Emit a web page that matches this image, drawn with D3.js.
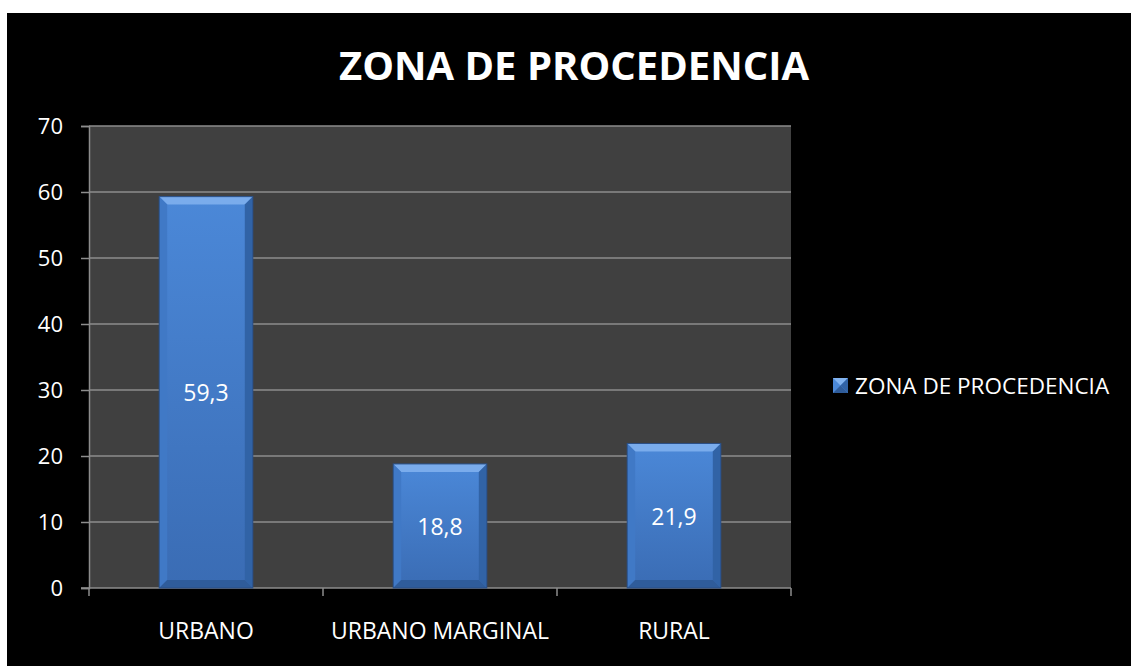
<!DOCTYPE html>
<html>
<head>
<meta charset="utf-8">
<script src="https://cdn.jsdelivr.net/npm/d3@7"></script>
<style>
  body { margin: 0; background: #fff; }
  text { font-family: "Open Sans", "DejaVu Sans", sans-serif; fill: #fff; }
</style>
</head>
<body>
<div id="vis"></div>
<script>
// chart data
var categories = ['URBANO', 'URBANO MARGINAL', 'RURAL'];
var values = [59.3, 18.8, 21.9];
var labels = ['59,3', '18,8', '21,9'];
var yTicks = [0, 10, 20, 30, 40, 50, 60, 70];
var seriesName = 'ZONA DE PROCEDENCIA';
var chartTitle = 'ZONA DE PROCEDENCIA';

var width = 1131, height = 666;
var margin = { top: 126, left: 89, right: 340, bottom: 78 };
var drawWidth = 791 - margin.left,
    drawHeight = 588 - margin.top;

var svg = d3.select('#vis').append('svg')
    .attr('width', width)
    .attr('height', height);

// black chart background
svg.append('rect')
    .attr('x', 7).attr('y', 13)
    .attr('width', width - 7).attr('height', height - 13)
    .attr('fill', '#000');

var defs = svg.append('defs');
var grad = defs.append('linearGradient').attr('id', 'barGrad')
    .attr('x1', 0).attr('y1', 0).attr('x2', 0).attr('y2', 1);
grad.append('stop').attr('offset', '0%').attr('stop-color', '#4b88d8');
grad.append('stop').attr('offset', '100%').attr('stop-color', '#3a6cb4');

var g = svg.append('g')
    .attr('transform', 'translate(' + margin.left + ',' + margin.top + ')');

// plot area
g.append('rect')
    .attr('width', drawWidth).attr('height', drawHeight)
    .attr('fill', '#404040');

var xScale = d3.scaleBand()
    .domain(categories)
    .range([0, drawWidth])
    .paddingInner(0.6)
    .paddingOuter(0.3);

var yScale = d3.scaleLinear()
    .domain([0, 70])
    .range([drawHeight, 0]);

// gridlines
g.selectAll('.grid').data(yTicks.slice(1)).enter().append('line')
    .attr('x1', 0).attr('x2', drawWidth)
    .attr('y1', function(d) { return yScale(d); })
    .attr('y2', function(d) { return yScale(d); })
    .attr('stroke', '#8c8c8c').attr('stroke-width', 1.5);

// y axis
var yAxis = d3.axisLeft(yScale).tickValues(yTicks).tickSize(8).tickPadding(18);
var yAxisG = g.append('g').call(yAxis);
yAxisG.select('.domain').attr('stroke', '#8c8c8c').attr('stroke-width', 1.5);
yAxisG.selectAll('.tick line').attr('stroke', '#8c8c8c').attr('stroke-width', 1.5);
yAxisG.selectAll('.tick text').attr('fill', '#fff')
    .style('font-size', '22px').attr('font-family', null);

// x axis with ticks at category boundaries
var step = drawWidth / categories.length;
var xAxisG = g.append('g').attr('transform', 'translate(0,' + drawHeight + ')');
xAxisG.append('line')
    .attr('x1', -8).attr('x2', drawWidth)
    .attr('stroke', '#8c8c8c').attr('stroke-width', 1.5);
xAxisG.selectAll('.xt').data(d3.range(categories.length + 1)).enter().append('line')
    .attr('x1', function(d) { return d * step; })
    .attr('x2', function(d) { return d * step; })
    .attr('y1', 0).attr('y2', 8)
    .attr('stroke', '#8c8c8c').attr('stroke-width', 1.5);
xAxisG.selectAll('.xl').data(categories).enter().append('text')
    .attr('x', function(d) { return xScale(d) + xScale.bandwidth() / 2; })
    .attr('y', 51)
    .attr('text-anchor', 'middle')
    .style('font-size', '23px')
    .text(function(d) { return d; });

// bars with a bevel
var bev = 8;
var bars = g.selectAll('.bar').data(values).enter().append('g')
    .attr('transform', function(d, i) {
        return 'translate(' + xScale(categories[i]) + ',' + yScale(d) + ')';
    });

bars.each(function(d, i) {
    var b = d3.select(this);
    var w = xScale.bandwidth();
    var h = drawHeight - yScale(d);
    b.append('rect').attr('width', w).attr('height', h).attr('fill', 'url(#barGrad)');
    // top bevel
    b.append('polygon')
        .attr('points', [[0, 0], [w, 0], [w - bev, bev], [bev, bev]].join(' '))
        .attr('fill', '#82b3f0').attr('opacity', 0.85);
    // left bevel
    b.append('polygon')
        .attr('points', [[0, 0], [bev, bev], [bev, h - bev], [0, h]].join(' '))
        .attr('fill', '#4079c6');
    // right bevel
    b.append('polygon')
        .attr('points', [[w, 0], [w - bev, bev], [w - bev, h - bev], [w, h]].join(' '))
        .attr('fill', '#3163a6');
    // bottom bevel
    b.append('polygon')
        .attr('points', [[0, h], [bev, h - bev], [w - bev, h - bev], [w, h]].join(' '))
        .attr('fill', '#2f5c9a');
    b.append('rect').attr('width', w).attr('height', h)
        .attr('fill', 'none').attr('stroke', '#2a4f86').attr('stroke-width', 1);
    b.append('text')
        .attr('x', w / 2).attr('y', h / 2 + 9)
        .attr('text-anchor', 'middle')
        .style('font-size', '23px')
        .text(labels[i]);
});

// title
svg.append('text')
    .attr('x', 574).attr('y', 80)
    .attr('text-anchor', 'middle')
    .style('font-size', '40px').style('font-weight', 'bold')
    .text(chartTitle);

// legend
var legend = svg.append('g').attr('transform', 'translate(833,378)');
legend.append('rect').attr('width', 15).attr('height', 15).attr('fill', '#4b88d8');
legend.append('polygon').attr('points', '0,0 15,0 7.5,7.5').attr('fill', '#82b3f0');
legend.append('polygon').attr('points', '0,15 15,15 7.5,7.5').attr('fill', '#2f5c9a');
legend.append('polygon').attr('points', '15,0 15,15 7.5,7.5').attr('fill', '#3163a6');
legend.append('text')
    .attr('x', 22).attr('y', 16)
    .style('font-size', '22.5px')
    .text(seriesName);
</script>
</body>
</html>
